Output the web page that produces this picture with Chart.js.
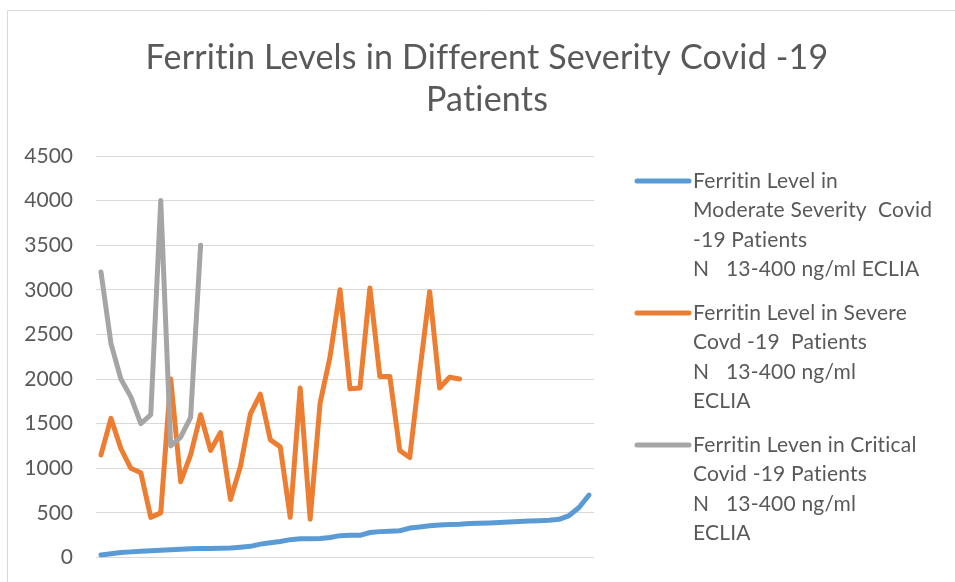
<!DOCTYPE html>
<html>
<head>
  <meta charset="UTF-8" />
  <title>Ferritin Levels</title>
  <script src="https://cdn.jsdelivr.net/npm/chart.js"></script>
  <style>
    html, body { margin: 0; padding: 0; background: #fff; }
  </style>
</head>
<body>
  <canvas id="ferritinChart" width="955" height="582"></canvas>

  <script>
    // chart data
    const categories = Array.from({ length: 50 }, (_, i) => String(i + 1));

    const moderate = [28, 42, 55, 63, 70, 77, 82, 88, 93, 97,
                      100, 102, 104, 107, 115, 125, 150, 165, 180, 200,
                      210, 210, 212, 225, 245, 248, 248, 280, 290, 295,
                      300, 330, 342, 355, 365, 370, 373, 380, 385, 388,
                      392, 398, 403, 408, 413, 418, 428, 470, 560, 700];

    const severe = [1150, 1560, 1220, 1000, 950, 450, 500, 2000, 850, 1150,
                    1600, 1200, 1400, 650, 1020, 1610, 1830, 1320, 1240, 450,
                    1900, 430, 1730, 2250, 3000, 1890, 1900, 3020, 2030, 2030,
                    1200, 1120, 2080, 2980, 1900, 2020, 2000];

    const critical = [3200, 2400, 2000, 1800, 1500, 1600, 4000, 1250, 1350, 1570, 3500];

    const yTicks = { min: 0, max: 4500, step: 500 };

    const titleLines = ['Ferritin Levels in Different Severity Covid -19', 'Patients'];

    const seriesLabels = [
      ['Ferritin Level in', 'Moderate Severity  Covid', '-19 Patients', 'N   13-400 ng/ml ECLIA'],
      ['Ferritin Level in Severe', 'Covd -19  Patients', 'N   13-400 ng/ml', 'ECLIA'],
      ['Ferritin Leven in Critical', 'Covid -19 Patients', 'N   13-400 ng/ml', 'ECLIA']
    ];
    const seriesColors = ['#5B9BD5', '#ED7D31', '#A5A5A5'];

    const FONT = 'Lato, "Open Sans", sans-serif';
    const TEXT = '#595959';

    // title, legend and frame drawn by hand (multi-line legend entries)
    const decorPlugin = {
      id: 'decor',
      beforeDraw(chart) {
        const ctx = chart.ctx;
        ctx.save();
        ctx.fillStyle = '#fff';
        ctx.fillRect(0, 0, chart.width, chart.height);
        ctx.strokeStyle = '#d9d9d9';
        ctx.lineWidth = 1;
        ctx.beginPath();
        ctx.moveTo(7.5, 600);
        ctx.lineTo(7.5, 10.5);
        ctx.lineTo(960, 10.5);
        ctx.stroke();
        ctx.restore();
      },
      afterDraw(chart) {
        const ctx = chart.ctx;
        ctx.save();
        ctx.fillStyle = TEXT;
        ctx.textBaseline = 'middle';
        ctx.letterSpacing = '0.2px'; // keeps "ti" from turning into a ligature

        ctx.font = '34px ' + FONT;
        ctx.textAlign = 'center';
        titleLines.forEach((t, i) => ctx.fillText(t, 487, 58 + i * 42));

        ctx.font = '21px ' + FONT;
        ctx.textAlign = 'left';
        const firstY = [181, 313, 445];
        chart.data.datasets.forEach((ds, i) => {
          const y = firstY[i];
          ctx.strokeStyle = ds.borderColor;
          ctx.lineWidth = 5;
          ctx.lineCap = 'round';
          ctx.beginPath();
          ctx.moveTo(637, y);
          ctx.lineTo(689, y);
          ctx.stroke();
          ds.label.forEach((line, j) => ctx.fillText(line, 693, y + j * 29.4));
        });
        ctx.restore();
      }
    };

    const ctx = document.getElementById('ferritinChart').getContext('2d');
    new Chart(ctx, {
      type: 'line',
      data: {
        labels: categories,
        datasets: [moderate, severe, critical].map((d, i) => ({
          label: seriesLabels[i],
          data: d,
          borderColor: seriesColors[i],
          backgroundColor: seriesColors[i],
          borderWidth: 5,
          pointRadius: 0,
          tension: 0,
          borderCapStyle: 'round',
          borderJoinStyle: 'round',
          order: i === 0 ? 2 : (i === 1 ? 1 : 0)
        }))
      },
      options: {
        responsive: false,
        animation: false,
        layout: { padding: { top: 156, right: 361, bottom: 24.5, left: 0 } },
        plugins: {
          legend: { display: false },
          title: { display: false },
          tooltip: { enabled: false }
        },
        scales: {
          x: {
            type: 'category',
            offset: true,
            display: false
          },
          y: {
            min: yTicks.min,
            max: yTicks.max,
            afterFit(scale) { scale.width = 96; },
            ticks: {
              stepSize: yTicks.step,
              padding: 0,
              color: TEXT,
              font: { family: FONT, size: 21 },
              callback: v => String(v)
            },
            grid: {
              color: '#d9d9d9',
              lineWidth: 1,
              drawTicks: true,
              tickLength: 23,
              tickColor: 'rgba(0,0,0,0)'
            },
            border: { display: false }
          }
        }
      },
      plugins: [decorPlugin]
    });
  </script>
</body>
</html>
